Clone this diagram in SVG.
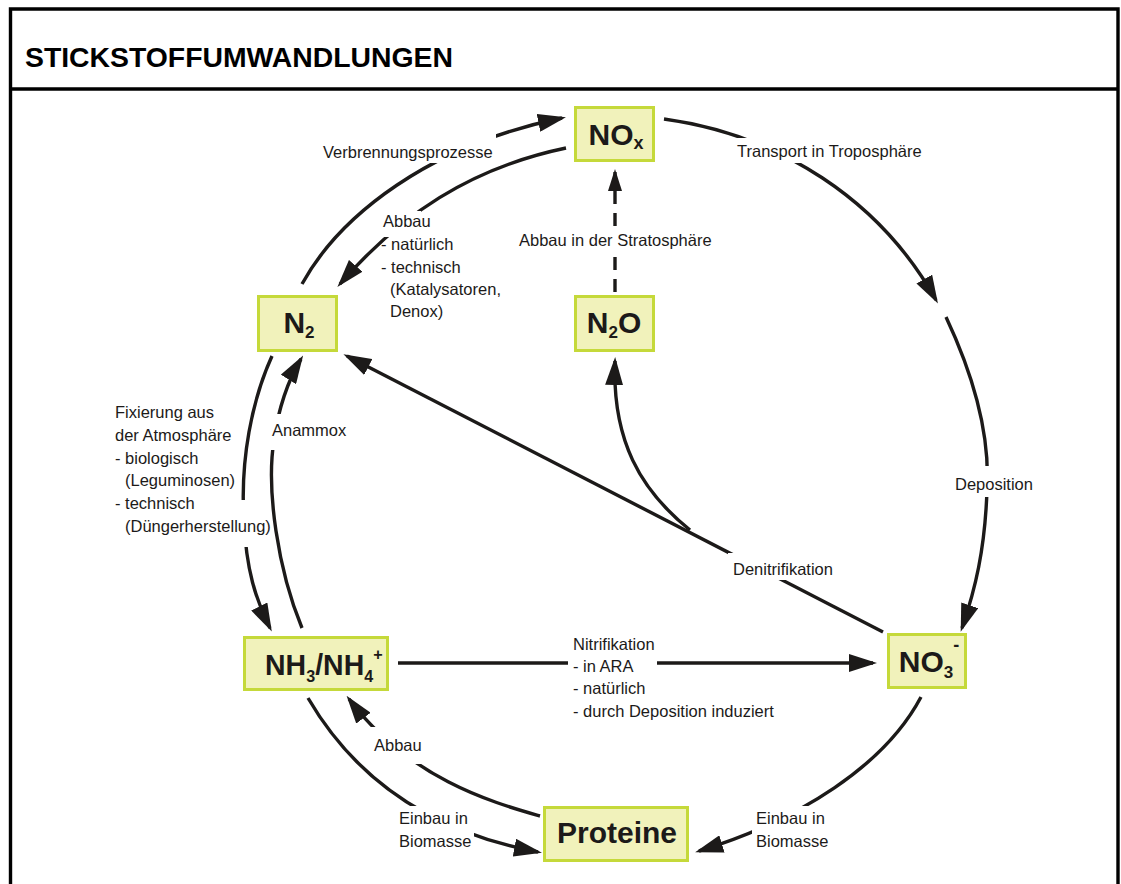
<svg xmlns="http://www.w3.org/2000/svg" width="1121" height="884" viewBox="0 0 1121 884">
<style>
.frame{fill:none;stroke:#000;stroke-width:3.4}
.c{fill:none;stroke:#1c1a19;stroke-width:3.4}
.d{stroke-dasharray:13 9}
.box{fill:#f1f2bb;stroke:#c5d93a;stroke-width:3}
.nt{font-family:"Liberation Sans",Arial,sans-serif;font-weight:bold;font-size:30px;fill:#1c1a19}
.sub{font-size:17px}
.lb{font-family:"Liberation Sans",Arial,sans-serif;font-size:16.5px;fill:#1c1a19}
.bg{fill:#fff}
.title{font-family:"Liberation Sans",Arial,sans-serif;font-weight:bold;font-size:27px;fill:#000}
</style>
<defs>
<marker id="ah" markerUnits="userSpaceOnUse" viewBox="0 0 28 18" markerWidth="28" markerHeight="18" refX="24" refY="9" orient="auto"><path d="M0,0 L28,9 L0,18 z" fill="#1c1a19"/></marker>
<marker id="ahs" markerUnits="userSpaceOnUse" viewBox="0 0 22 14" markerWidth="22" markerHeight="14" refX="19" refY="7" orient="auto"><path d="M0,0 L22,7 L0,14 z" fill="#1c1a19"/></marker>
</defs>
<rect x="0" y="0" width="1121" height="884" fill="#fff"/>
<g id="frame">
<path class="frame" d="M10.5,884 V9 H1118 V884"/>
<path class="frame" d="M10.5,89 H1118"/>
<text class="title" x="25" y="67" textLength="428" lengthAdjust="spacingAndGlyphs">STICKSTOFFUMWANDLUNGEN</text>
</g>
<g id="connectors">
<path class="c" marker-end="url(#ah)" d="M302,284 C340,215 430,145 562,118"/>
<path class="c" marker-end="url(#ah)" d="M566,148 C470,168 400,215 340,284"/>
<path class="c" marker-end="url(#ah)" d="M664,119 C780,135 880,200 936,300"/>
<path class="c" marker-end="url(#ah)" d="M946,317 C978,385 990,440 987,490 C985,550 975,590 962,628"/>
<path class="c d" marker-end="url(#ahs)" d="M615,292 V172"/>
<path class="c" marker-end="url(#ah)" d="M272,356 C252,400 240,460 244,520 C246,570 256,600 270,628"/>
<path class="c" marker-end="url(#ah)" d="M302,628 C278,570 266,490 274,440 C278,410 288,380 301,359"/>
<path class="c" marker-end="url(#ah)" d="M883,632 L347,356"/>
<path class="c" marker-end="url(#ah)" d="M690,530 C640,490 612,440 615,361"/>
<path class="c" d="M398,663 H568"/>
<path class="c" marker-end="url(#ah)" d="M657,663 H873"/>
<path class="c" marker-end="url(#ah)" d="M308,698 C350,770 420,830 538,852"/>
<path class="c" marker-end="url(#ah)" d="M540,816 C495,803 410,780 349,699"/>
<path class="c" marker-end="url(#ah)" d="M921,697 C885,765 800,820 699,851"/>
</g>
<g id="labels">
<rect class="bg" x="320" y="134" width="176" height="29"/>
<rect class="bg" x="379" y="211" width="42" height="26"/>
<rect class="bg" x="734" y="138" width="191" height="25"/>
<rect class="bg" x="952" y="466" width="83" height="31"/>
<rect class="bg" x="516" y="230" width="199" height="24"/>
<rect class="bg" x="236" y="500" width="26" height="47"/>
<rect class="bg" x="266" y="414" width="84" height="36"/>
<rect class="bg" x="728" y="553" width="110" height="27"/>
<rect class="bg" x="368" y="727" width="56" height="37"/>
<rect class="bg" x="396" y="806" width="78" height="46"/>
<rect class="bg" x="752" y="806" width="78" height="46"/>
<text class="lb" x="323" y="158">Verbrennungsprozesse</text>
<text class="lb" x="383" y="227">Abbau</text>
<text class="lb" x="381" y="250">- natürlich</text>
<text class="lb" x="381" y="273">- technisch</text>
<text class="lb" x="390" y="295">(Katalysatoren,</text>
<text class="lb" x="390" y="317">Denox)</text>
<text class="lb" x="737" y="157">Transport in Troposphäre</text>
<text class="lb" x="519" y="246">Abbau in der Stratosphäre</text>
<text class="lb" x="955" y="490">Deposition</text>
<text class="lb" x="115" y="418">Fixierung aus</text>
<text class="lb" x="115" y="441">der Atmosphäre</text>
<text class="lb" x="115" y="464">- biologisch</text>
<text class="lb" x="125" y="486">(Leguminosen)</text>
<text class="lb" x="115" y="509">- technisch</text>
<text class="lb" x="125" y="532">(Düngerherstellung)</text>
<text class="lb" x="272" y="436">Anammox</text>
<text class="lb" x="733" y="575">Denitrifikation</text>
<text class="lb" x="573" y="650">Nitrifikation</text>
<text class="lb" x="573" y="672">- in ARA</text>
<text class="lb" x="573" y="694">- natürlich</text>
<text class="lb" x="573" y="717">- durch Deposition induziert</text>
<text class="lb" x="374" y="751">Abbau</text>
<text class="lb" x="399" y="824">Einbau in</text>
<text class="lb" x="399" y="847">Biomasse</text>
<text class="lb" x="756" y="824">Einbau in</text>
<text class="lb" x="756" y="847">Biomasse</text>
</g>
<g id="node-nox">
<rect class="box" x="575.5" y="107.5" width="78" height="53"/>
<text class="nt" x="616" y="145" text-anchor="middle">NO<tspan font-size="18" dy="4">x</tspan></text>
</g>
<g id="node-n2">
<rect class="box" x="258.5" y="296.5" width="78" height="54"/>
<text class="nt" x="299" y="333" text-anchor="middle">N<tspan class="sub" dy="5">2</tspan></text>
</g>
<g id="node-n2o">
<rect class="box" x="575.5" y="296.5" width="78" height="54"/>
<text class="nt" x="614" y="333" text-anchor="middle">N<tspan class="sub" dy="5">2</tspan><tspan dy="-5">O</tspan></text>
</g>
<g id="node-nh3">
<rect class="box" x="244.5" y="637.5" width="143" height="52"/>
<text class="nt" transform="translate(265,675) scale(0.95,1)" x="0" y="0">NH<tspan class="sub" dy="7">3</tspan><tspan dy="-7">/NH</tspan><tspan class="sub" dy="7">4</tspan><tspan font-size="17" dy="-22">+</tspan></text>
</g>
<g id="node-no3">
<rect class="box" x="888.5" y="634.5" width="77" height="53"/>
<text class="nt" x="929" y="672" text-anchor="middle">NO<tspan class="sub" dy="6">3</tspan><tspan font-size="18" dy="-27">-</tspan></text>
</g>
<g id="node-proteine">
<rect class="box" x="544.5" y="807.5" width="143" height="53"/>
<text class="nt" x="617" y="843" text-anchor="middle">Proteine</text>
</g>
</svg>
